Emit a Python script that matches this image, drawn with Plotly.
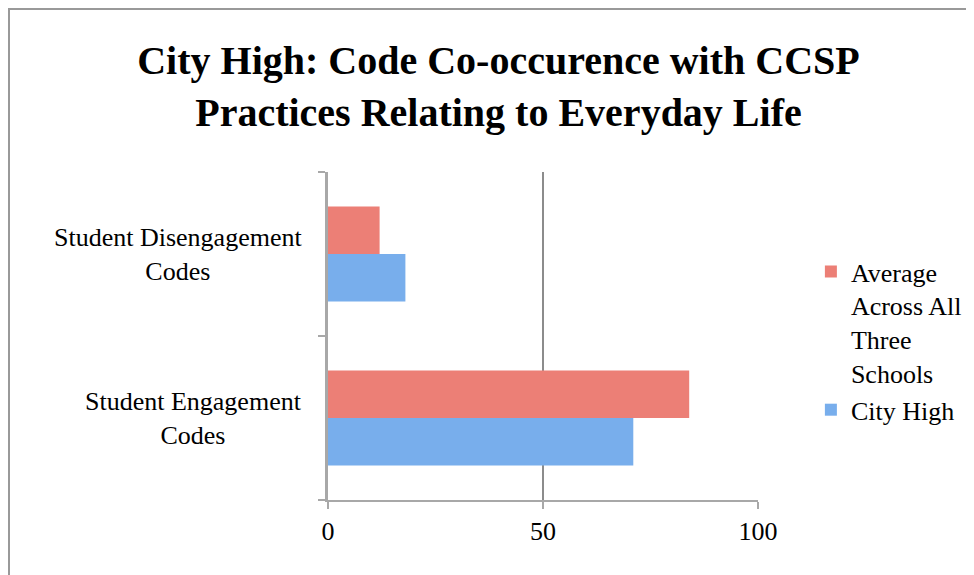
import plotly.graph_objects as go

categories = ["Student Engagement Codes", "Student Disengagement Codes"]
category_labels = ["Student Engagement<br>Codes", "Student Disengagement<br>Codes"]
city_high = [71, 18]
average_all = [84, 12]
series_names = ["City High", "Average<br>Across All<br>Three<br>Schools"]
x_ticks = [0, 50, 100]

FONT = "Liberation Serif"

fig = go.Figure()
fig.add_trace(go.Bar(y=categories, x=city_high, orientation="h", name=series_names[0],
                     marker=dict(color="#78AEEC", line=dict(width=0))))
fig.add_trace(go.Bar(y=categories, x=average_all, orientation="h", name=series_names[1],
                     marker=dict(color="#EC7F76", line=dict(width=0))))

for cat, lab in zip(categories, category_labels):
    fig.add_annotation(x=0, xref="paper", xanchor="right", xshift=-24,
                       y=cat, yref="y", text=lab, showarrow=False, align="center",
                       font=dict(family=FONT, size=26, color="#000"))

# outer chart frame (page has an 8px body margin)
fig.add_shape(type="rect", xref="paper", yref="paper",
              x0=-319 / 430, x1=1.7, y0=-0.4, y1=1 + 163 / 328,
              line=dict(color="#999999", width=2), fillcolor="rgba(0,0,0,0)", layer="below")

fig.update_layout(
    width=974, height=575,
    margin=dict(l=320, r=224, t=164, b=83, autoexpand=False),
    paper_bgcolor="white", plot_bgcolor="white",
    barmode="group", bargap=0.42, bargroupgap=0,
    title=dict(text="<b>City High: Code Co-occurence with CCSP<br>Practices Relating to Everyday Life</b>",
               x=0.5036, xanchor="center", y=0.885, yanchor="middle",
               font=dict(family=FONT, size=40, color="#000")),
    legend=dict(traceorder="reversed", x=1.123, xanchor="left", y=0.768, yanchor="top",
                font=dict(family=FONT, size=26, color="#000"), itemwidth=30,
                valign="top", tracegroupgap=4),
    showlegend=True,
    font=dict(family=FONT, color="#000"),
)
fig.update_xaxes(range=[0, 100], tickvals=x_ticks, showgrid=True, gridcolor="#8c8c8c", gridwidth=2,
                 zeroline=False, showline=True, linecolor="#a8a8a8", linewidth=2,
                 ticks="outside", ticklen=7, tickcolor="#a8a8a8", tickwidth=2,
                 tickfont=dict(family=FONT, size=26, color="#000"))
fig.update_yaxes(categoryorder="array", categoryarray=categories, range=[-0.5, 1.5],
                 showticklabels=False, tickson="boundaries", ticks="outside", ticklen=7,
                 tickcolor="#a8a8a8", tickwidth=2, showline=True, linecolor="#a8a8a8", linewidth=3,
                 showgrid=False, zeroline=False)

fig.write_html("out.html")
